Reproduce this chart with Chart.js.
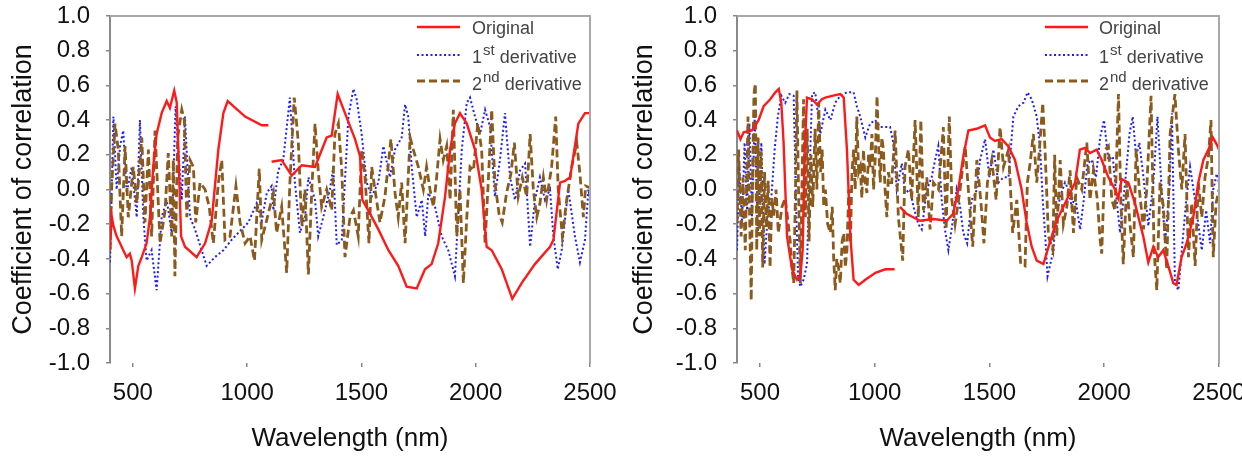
<!DOCTYPE html>
<html><head><meta charset="utf-8">
<script src="https://cdn.jsdelivr.net/npm/chart.js@4.4.0/dist/chart.umd.min.js"></script>
<style>
html,body{margin:0;padding:0;background:#fff;width:1242px;height:460px;overflow:hidden}
canvas{position:absolute;top:0}
#c1{left:0}#c2{left:621px}
</style></head><body>
<canvas id="c1" width="621" height="460"></canvas>
<canvas id="c2" width="621" height="460"></canvas>
<script>
// ---------- tick labels / text ----------
const xTickValues = [500, 1000, 1500, 2000, 2500];
const yTickValues = [-1.0, -0.8, -0.6, -0.4, -0.2, 0.0, 0.2, 0.4, 0.6, 0.8, 1.0];
const xTitle = 'Wavelength (nm)';
const yTitle = 'Coefficient of correlation';
const seriesNames = ['Original', '1st derivative', '2nd derivative'];

// ---------- left panel ----------
const lOrigWl = [400,407,415,429,444,458,473,487,495,509,524,539,560,575,589,604,626,648,662,681,692,699,711,728,779,816,845,874,896,915,991,1064,1093,1100,1107,1151,1195,1239,1297,1348,1370,1396,1428,1472,1494,1504,1530,1574,1618,1661,1698,1742,1778,1807,1836,1866,1888,1909,1931,1961,1997,2026,2048,2070,2114,2160,2201,2259,2325,2340,2369,2391,2413,2449,2478,2500];
const lOrigR  = [-0.35,-0.15,-0.21,-0.27,-0.31,-0.35,-0.39,-0.37,-0.41,-0.57,-0.44,-0.39,-0.31,-0.16,0.13,0.32,0.44,0.51,0.47,0.57,0.50,0.23,-0.27,-0.33,-0.39,-0.31,-0.18,0.23,0.44,0.51,0.42,0.37,0.37,null,0.16,0.17,0.08,0.14,0.13,0.30,0.31,0.55,0.44,0.29,0.19,-0.06,-0.12,-0.23,-0.35,-0.44,-0.56,-0.57,-0.46,-0.43,-0.31,-0.04,0.23,0.38,0.44,0.38,0.23,0.00,-0.33,-0.35,-0.46,-0.63,-0.54,-0.43,-0.33,-0.29,0.04,0.05,0.07,0.38,0.44,0.44];

const lD1Wl = [400,415,429,444,458,473,495,517,531,546,560,582,604,626,648,670,687,699,714,728,750,772,801,823,859,896,932,961,1005,1042,1064,1086,1107,1115,1136,1158,1187,1209,1231,1253,1268,1297,1311,1333,1362,1377,1392,1414,1443,1465,1479,1501,1523,1545,1574,1596,1625,1647,1676,1691,1705,1720,1742,1764,1779,1793,1822,1851,1880,1909,1939,1961,1975,1997,2019,2041,2063,2084,2106,2128,2150,2172,2194,2216,2238,2259,2281,2303,2325,2340,2359,2376,2405,2434,2456,2478,2493,2500];
const lD1R  = [-0.42,0.42,0.00,0.25,0.34,-0.02,0.13,-0.16,0.40,-0.16,-0.41,-0.35,-0.58,-0.16,-0.06,-0.25,0.48,0.23,-0.06,0.42,-0.16,-0.23,-0.35,-0.44,-0.39,-0.35,-0.29,-0.25,-0.19,-0.08,-0.18,-0.02,0.02,-0.12,0.11,0.17,0.53,0.04,-0.25,-0.16,0.07,-0.06,-0.27,-0.16,0.00,0.13,-0.32,-0.29,0.42,0.58,0.52,0.32,0.04,-0.04,0.04,0.25,0.07,0.23,0.30,0.49,0.42,0.13,-0.16,-0.06,-0.27,-0.02,-0.10,-0.27,-0.35,-0.50,0.23,0.50,0.53,0.42,0.32,0.46,0.36,-0.04,0.17,0.44,0.07,-0.06,0.11,0.15,-0.33,-0.06,0.07,-0.06,0.00,-0.27,-0.46,-0.35,0.00,-0.27,-0.42,-0.29,0.00,-0.05];

const lD2Wl = [400,407,422,436,451,466,480,502,517,539,553,568,582,597,619,641,655,670,677,684,696,714,725,736,750,765,775,794,816,834,852,874,889,903,925,951,969,991,1013,1032,1053,1064,1115,1129,1151,1173,1187,1206,1224,1239,1253,1268,1283,1297,1311,1326,1348,1370,1384,1399,1414,1428,1450,1465,1486,1501,1516,1533,1545,1559,1581,1603,1629,1647,1661,1676,1691,1713,1727,1749,1771,1785,1800,1815,1829,1844,1858,1873,1888,1902,1917,1931,1946,1961,1975,1990,2009,2026,2041,2055,2070,2084,2102,2116,2135,2154,2169,2186,2204,2223,2238,2252,2267,2281,2296,2310,2332,2350,2361,2379,2398,2420,2442,2456,2471,2481,2500];
const lD2R  = [-0.35,0.00,0.38,0.23,-0.27,0.25,-0.16,0.13,-0.08,0.30,-0.19,0.23,-0.27,0.34,-0.31,-0.12,0.21,-0.27,0.17,-0.50,0.30,0.46,0.40,-0.16,0.17,0.13,-0.19,0.04,0.00,-0.10,-0.31,0.04,0.17,-0.29,-0.27,0.02,-0.19,-0.31,-0.27,-0.41,0.12,-0.29,-0.02,-0.25,-0.10,-0.48,0.04,0.53,0.27,-0.21,0.00,-0.49,0.00,0.38,0.11,-0.10,0.00,-0.12,0.32,0.38,0.11,-0.39,-0.16,-0.12,-0.27,0.23,0.07,-0.31,0.13,0.00,-0.19,-0.04,0.29,-0.02,-0.16,0.04,-0.31,0.30,0.23,0.13,0.00,0.13,0.00,-0.10,0.07,0.29,0.17,0.25,-0.06,0.46,-0.27,0.00,-0.54,-0.16,0.13,0.11,0.38,0.23,-0.31,0.05,0.46,0.04,-0.14,-0.19,-0.02,0.09,0.27,-0.04,0.07,-0.04,0.32,0.00,-0.16,-0.08,0.07,-0.06,0.13,0.42,0.00,-0.27,-0.06,0.13,0.27,0.09,-0.16,0.02,0.01];

// ---------- right panel ----------
const rOrigWl = [400,415,429,465,494,516,545,567,582,593,603,618,640,661,676,686,695,705,727,749,770,785,814,850,865,879,894,908,930,959,1003,1046,1087,1100,1110,1139,1197,1255,1314,1342,1364,1386,1408,1444,1481,1502,1524,1553,1582,1611,1640,1662,1684,1706,1735,1764,1793,1822,1851,1873,1894,1916,1938,1967,1989,2018,2047,2061,2076,2105,2134,2170,2192,2214,2235,2257,2279,2301,2315,2337,2359,2388,2410,2432,2454,2473,2490,2500];
const rOrigR  = [0.34,0.29,0.33,0.34,0.40,0.48,0.52,0.56,0.58,0.50,0.27,-0.27,-0.46,-0.52,-0.50,-0.35,0.23,0.53,0.52,0.49,0.52,0.53,0.54,0.55,0.53,0.23,-0.27,-0.52,-0.55,-0.52,-0.48,-0.46,-0.46,null,-0.10,-0.14,-0.18,-0.17,-0.18,-0.14,0.00,0.19,0.34,0.35,0.37,0.30,0.28,0.29,0.25,0.17,0.00,-0.19,-0.33,-0.41,-0.43,-0.30,-0.18,-0.10,-0.02,0.04,0.23,0.24,0.21,0.23,0.17,0.07,0.00,-0.05,0.06,0.04,-0.08,-0.27,-0.42,-0.33,-0.39,-0.35,-0.44,-0.54,-0.55,-0.39,-0.31,-0.16,0.04,0.17,0.23,0.30,0.26,0.23];

const rD1Wl = [400,410,422,433,444,454,465,477,491,506,520,535,549,564,578,593,610,628,647,657,666,676,690,705,715,727,741,763,785,807,828,850,879,908,922,937,959,980,1002,1024,1053,1067,1081,1096,1118,1132,1154,1169,1190,1205,1227,1248,1263,1277,1292,1306,1321,1335,1357,1372,1386,1403,1422,1441,1459,1481,1500,1517,1539,1561,1583,1604,1626,1648,1666,1684,1706,1721,1732,1743,1753,1765,1779,1786,1808,1829,1844,1858,1873,1895,1909,1927,1945,1964,1982,1999,2018,2037,2054,2069,2091,2110,2124,2139,2153,2171,2192,2214,2232,2250,2265,2284,2295,2308,2323,2338,2356,2374,2391,2410,2425,2444,2461,2475,2490,2500];
const rD1R  = [-0.35,0.13,-0.19,0.27,-0.12,0.38,-0.16,0.42,-0.27,0.27,-0.43,-0.12,-0.06,0.23,0.42,0.54,0.50,0.55,0.54,-0.06,-0.50,-0.56,-0.52,-0.43,0.04,0.55,0.56,0.32,0.46,0.40,0.50,0.54,0.56,0.56,0.48,0.42,0.30,0.38,0.40,0.36,0.36,0.36,0.27,0.00,0.15,-0.02,0.00,-0.10,-0.20,-0.23,0.00,0.07,0.17,0.25,-0.06,-0.23,-0.35,-0.23,0.00,-0.10,-0.25,-0.31,-0.06,-0.02,0.17,0.29,0.07,0.23,0.04,0.07,0.07,0.42,0.48,0.50,0.56,0.52,0.42,0.23,-0.06,-0.27,-0.50,-0.43,-0.35,-0.20,-0.04,0.04,0.00,-0.10,-0.04,-0.23,-0.08,0.15,0.17,0.07,0.30,0.40,0.17,0.19,-0.06,-0.25,0.04,0.32,0.42,0.19,0.27,0.07,-0.21,0.04,0.42,0.00,-0.31,0.00,0.44,-0.54,-0.58,-0.35,-0.08,0.13,-0.02,-0.20,-0.35,-0.12,-0.31,0.00,0.09,0.04];

const rD2Wl = [400,407,418,426,436,448,456,462,468,474,480,486,492,498,505,512,520,528,536,544,552,560,570,580,596,610,620,632,640,647,655,661,668,676,684,690,698,706,714,722,730,740,748,756,764,771,778,785,795,807,815,821,828,835,843,850,858,865,872,879,887,894,901,908,915,922,930,937,944,951,958,966,973,980,988,995,1003,1010,1017,1024,1031,1038,1045,1053,1060,1067,1074,1089,1103,1122,1132,1147,1161,1176,1190,1201,1212,1227,1241,1256,1278,1299,1311,1325,1336,1350,1372,1394,1408,1427,1445,1462,1476,1491,1510,1529,1546,1561,1583,1601,1619,1636,1655,1665,1677,1691,1706,1720,1732,1742,1757,1776,1784,1793,1808,1822,1837,1851,1866,1880,1902,1924,1938,1953,1970,1982,1989,2004,2018,2033,2047,2062,2072,2083,2098,2112,2127,2139,2153,2171,2185,2204,2217,2229,2243,2258,2272,2287,2308,2323,2338,2352,2367,2381,2396,2410,2425,2439,2454,2465,2475,2487,2500];
const rD2R  = [-0.19,0.23,-0.27,0.07,-0.35,0.42,-0.23,-0.64,0.11,0.55,0.61,-0.35,0.30,-0.27,0.22,-0.45,0.10,-0.22,0.05,-0.45,-0.05,-0.15,0.00,-0.25,-0.10,-0.05,-0.16,-0.30,-0.46,-0.54,0.00,0.57,0.00,-0.54,0.10,0.52,-0.16,0.35,-0.30,0.20,-0.10,0.35,0.00,0.50,0.10,0.23,-0.10,0.00,-0.20,-0.25,-0.10,-0.39,-0.58,-0.40,-0.46,-0.54,-0.30,-0.25,-0.45,-0.35,0.00,-0.31,0.10,0.23,0.00,0.42,0.10,0.13,-0.05,0.23,0.05,-0.02,0.20,0.13,0.32,0.00,0.20,0.54,0.25,0.04,0.30,0.23,0.00,-0.16,0.10,0.04,0.04,0.34,-0.16,-0.41,0.13,0.23,-0.06,0.40,-0.16,0.40,-0.12,0.07,-0.23,0.04,0.00,0.36,-0.23,0.42,-0.06,-0.20,0.00,0.25,0.00,-0.33,0.17,-0.06,-0.31,0.04,0.17,-0.06,0.36,0.13,0.23,-0.25,-0.06,-0.43,-0.44,0.04,0.15,0.32,0.04,0.27,0.50,0.23,-0.27,-0.35,0.20,-0.27,0.17,-0.20,-0.10,0.11,-0.25,0.07,0.00,0.27,-0.06,0.11,-0.06,-0.29,-0.37,0.23,0.25,-0.06,-0.12,0.55,-0.06,-0.43,0.04,-0.20,-0.39,0.23,0.00,-0.23,0.00,0.54,-0.35,-0.58,0.04,-0.10,-0.46,0.32,0.55,0.23,0.00,0.32,-0.39,-0.08,-0.44,0.04,-0.16,0.07,0.19,0.40,-0.39,-0.08,0.00];

// ---------- build ----------
function pts(wl, r) { return wl.map((w, i) => ({x: w, y: r[i]})); }
const FONT = "'Liberation Sans', Arial, sans-serif";

const frameLegendPlugin = {
  id: 'frameLegend',
  afterDraw(chart, args, opts) {
    const ctx = chart.ctx, a = chart.chartArea;
    ctx.save();
    ctx.strokeStyle = '#a8a8a8'; ctx.lineWidth = 2; ctx.setLineDash([]);
    ctx.beginPath();
    ctx.moveTo(a.left, a.top); ctx.lineTo(a.right, a.top); ctx.lineTo(a.right, a.bottom);
    ctx.stroke();
    // legend
    const rowsY = [27, 55, 81], baseY = [34, 63, 90];
    const parts = [['Original', '', ''], ['1', 'st', 'derivative'], ['2', 'nd', 'derivative']];
    [0, 1, 2].forEach((k, i) => {
      const ds = chart.data.datasets[k];
      ctx.strokeStyle = ds.borderColor; ctx.lineWidth = ds.borderWidth;
      ctx.setLineDash(ds.borderDash || []);
      ctx.beginPath(); ctx.moveTo(opts.x0, rowsY[i]); ctx.lineTo(opts.x1, rowsY[i]); ctx.stroke();
      ctx.setLineDash([]);
      ctx.fillStyle = '#444'; ctx.textBaseline = 'alphabetic'; ctx.textAlign = 'left';
      const [m, s, rest] = parts[i];
      let x = opts.tx;
      ctx.font = '18px ' + FONT;
      ctx.fillText(m, x, baseY[i]);
      x += ctx.measureText(m).width;
      if (s) {
        ctx.font = '15px ' + FONT;
        ctx.fillText(s, x + 1, baseY[i] - 8);
        x += ctx.measureText(s).width + 6;
        ctx.font = '18px ' + FONT;
        ctx.fillText(rest, x, baseY[i]);
      }
    });
    ctx.restore();
  }
};

function makeChart(id, o) {
  const datasets = [
    {label: seriesNames[0], data: pts(o.origWl, o.origR), borderColor: '#ff1a1a', borderWidth: 2.4, order: 0},
    {label: seriesNames[1], data: pts(o.d1Wl, o.d1R), borderColor: '#2020f0', borderWidth: 2, borderDash: [2, 2.5], order: 2},
    {label: seriesNames[2], data: pts(o.d2Wl, o.d2R), borderColor: '#8b5a1c', borderWidth: 2.8, borderDash: [8, 4], order: 1}
  ];
  return new Chart(document.getElementById(id), {
    type: 'line',
    data: {datasets},
    options: {
      responsive: false, animation: false,
      spanGaps: false,
      elements: {point: {radius: 0}, line: {tension: 0, borderCapStyle: 'butt'}},
      layout: {padding: {top: 16, right: o.padRight, left: 0, bottom: 0}},
      plugins: {legend: {display: false}, tooltip: {enabled: false}, frameLegend: o.legend},
      scales: {
        x: {
          type: 'linear', min: 400, max: 2500,
          afterBuildTicks: s => { s.ticks = xTickValues.map(v => ({value: v})); },
          afterFit: s => { s.height = 97; s.paddingLeft = 0; s.paddingRight = 0; },
          border: {display: false},
          grid: {drawOnChartArea: false, drawTicks: true, tickLength: 4, color: '#888', lineWidth: 1.5},
          ticks: {font: {family: FONT, size: 24}, color: '#111', padding: 12, maxRotation: 0, autoSkip: false,
                  callback: v => String(v)},
          title: {display: true, text: xTitle, font: {family: FONT, size: 26}, color: '#111', padding: {top: 0, bottom: 6}}
        },
        y: {
          min: -1, max: 1,
          afterBuildTicks: s => { s.ticks = yTickValues.map(v => ({value: v})); },
          afterFit: s => { s.width = o.yWidth; s.paddingTop = 0; s.paddingBottom = 0; },
          border: {display: true, color: '#8a8a8a', width: 2},
          grid: {drawOnChartArea: false, drawTicks: true, tickLength: 4, color: '#888', lineWidth: 1.5},
          ticks: {font: {family: FONT, size: 24}, color: '#111', padding: 16, autoSkip: false,
                  callback: v => Number(v).toFixed(1)},
          title: {display: true, text: yTitle, font: {family: FONT, size: 27}, color: '#111', padding: {top: 7, bottom: 0}}
        }
      }
    },
    plugins: [frameLegendPlugin]
  });
}

makeChart('c1', {origWl: lOrigWl, origR: lOrigR, d1Wl: lD1Wl, d1R: lD1R, d2Wl: lD2Wl, d2R: lD2R,
  padRight: 31, yWidth: 110, legend: {x0: 417, x1: 460, tx: 472}});
makeChart('c2', {origWl: rOrigWl, origR: rOrigR, d1Wl: rD1Wl, d1R: rD1R, d2Wl: rD2Wl, d2R: rD2R,
  padRight: 23, yWidth: 116, legend: {x0: 424, x1: 467, tx: 478}});
</script>
</body></html>
